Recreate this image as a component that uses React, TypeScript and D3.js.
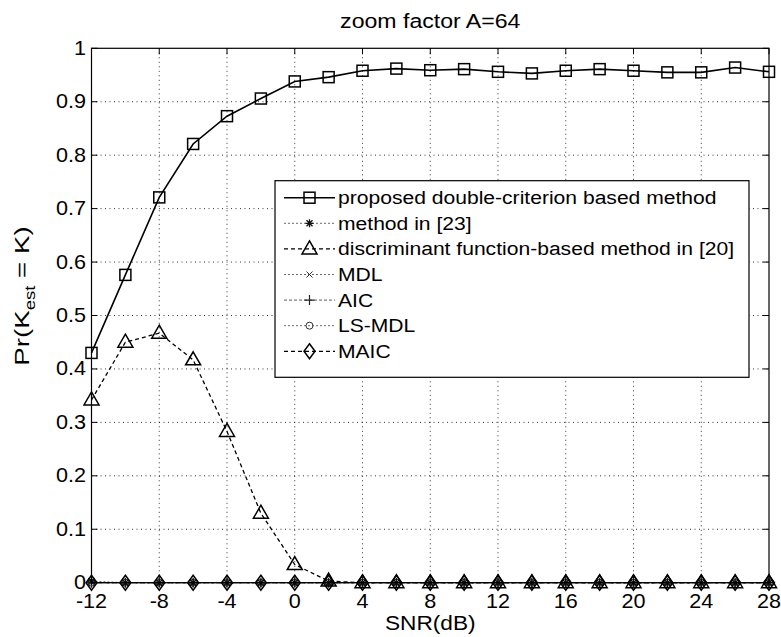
import React from "react";
import * as d3 from "d3";

const snr = [-12, -10, -8, -6, -4, -2, 0, 2, 4, 6, 8, 10, 12, 14, 16, 18, 20, 22, 24, 26, 28];
const proposed = [0.43, 0.576, 0.721, 0.821, 0.873, 0.906, 0.938, 0.946, 0.958, 0.962, 0.959, 0.961, 0.956, 0.953, 0.958, 0.961, 0.958, 0.955, 0.955, 0.964, 0.956];
const method23 = [0.003, 0, 0, 0, 0, 0, 0, 0, 0, 0, 0, 0, 0, 0, 0, 0, 0, 0, 0, 0, 0];
const discriminant = [0.342, 0.45, 0.467, 0.417, 0.283, 0.13, 0.034, 0.003, 0, 0, 0, 0, 0, 0, 0, 0, 0, 0, 0, 0, 0];
const mdl = [0, 0, 0, 0, 0, 0, 0, 0, 0, 0, 0, 0, 0, 0, 0, 0, 0, 0, 0, 0, 0];
const aic = [0, 0, 0, 0, 0, 0, 0, 0, 0, 0, 0, 0, 0, 0, 0, 0, 0, 0, 0, 0, 0];
const lsmdl = [0, 0, 0, 0, 0, 0, 0, 0, 0, 0, 0, 0, 0, 0, 0, 0, 0, 0, 0, 0, 0];
const maic = [0, 0, 0, 0, 0, 0, 0, 0, 0, 0, 0, 0, 0, 0, 0, 0, 0, 0, 0, 0, 0];

const xTicks = [-12, -8, -4, 0, 4, 8, 12, 16, 20, 24, 28];
const yTicks = [0, 0.1, 0.2, 0.3, 0.4, 0.5, 0.6, 0.7, 0.8, 0.9, 1];
const yTickLabels = ["0", "0.1", "0.2", "0.3", "0.4", "0.5", "0.6", "0.7", "0.8", "0.9", "1"];

const title = "zoom factor A=64";
const xLabel = "SNR(dB)";

type Marker = "square" | "star" | "triangle" | "x" | "plus" | "circle" | "diamond";
interface Series {
  name: string;
  values: number[];
  marker: Marker;
  color: string;
  width: number;
  dash: string;
}

const series: Series[] = [
  { name: "proposed double-criterion based method", values: proposed, marker: "square", color: "#000", width: 1.6, dash: "" },
  { name: "method in [23]", values: method23, marker: "star", color: "#444", width: 0.8, dash: "2,2" },
  { name: "discriminant function-based method in [20]", values: discriminant, marker: "triangle", color: "#000", width: 1.3, dash: "4,3" },
  { name: "MDL", values: mdl, marker: "x", color: "#444", width: 0.8, dash: "2,2" },
  { name: "AIC", values: aic, marker: "plus", color: "#333", width: 0.8, dash: "3,2" },
  { name: "LS-MDL", values: lsmdl, marker: "circle", color: "#444", width: 0.8, dash: "2,2" },
  { name: "MAIC", values: maic, marker: "diamond", color: "#000", width: 1.3, dash: "4,3" },
];

const FONT = "'Liberation Sans', Arial, Helvetica, sans-serif";

function MarkerShape({ type, x, y }: { type: Marker; x: number; y: number }) {
  const sw = 1.5;
  switch (type) {
    case "square":
      return <rect x={x - 5.5} y={y - 5.5} width={11} height={11} fill="none" stroke="#000" strokeWidth={sw} />;
    case "triangle":
      return <path d={`M${x},${y - 8} L${x + 7.5},${y + 5} L${x - 7.5},${y + 5} Z`} fill="none" stroke="#000" strokeWidth={sw} />;
    case "diamond":
      return <path d={`M${x},${y - 7.5} L${x + 5.5},${y} L${x},${y + 7.5} L${x - 5.5},${y} Z`} fill="none" stroke="#000" strokeWidth={sw} />;
    case "circle":
      return <circle cx={x} cy={y} r={3.5} fill="none" stroke="#333" strokeWidth={1} />;
    case "x":
      return <path d={`M${x - 3},${y - 3} L${x + 3},${y + 3} M${x - 3},${y + 3} L${x + 3},${y - 3}`} stroke="#333" strokeWidth={1} />;
    case "plus":
      return <path d={`M${x - 5},${y} L${x + 5},${y} M${x},${y - 5} L${x},${y + 5}`} stroke="#222" strokeWidth={1.2} />;
    case "star":
      return (
        <path
          d={`M${x - 4},${y} L${x + 4},${y} M${x},${y - 4} L${x},${y + 4} M${x - 3},${y - 3} L${x + 3},${y + 3} M${x - 3},${y + 3} L${x + 3},${y - 3}`}
          stroke="#111"
          strokeWidth={1.3}
        />
      );
  }
  return null;
}

export default function App() {
  const W = 781;
  const H = 637;
  const left = 91.5;
  const right = 769;
  const top = 48.3;
  const bottom = 582.7;

  const x = d3.scaleLinear().domain([-12, 28]).range([left, right]);
  const y = d3.scaleLinear().domain([0, 1]).range([bottom, top]);

  const line = d3
    .line<number>()
    .x((_, i) => x(snr[i]))
    .y((d) => y(d));

  const tickLen = 6;

  // legend geometry
  const lgX = 275;
  const lgY = 180.7;
  const lgW = 474;
  const lgH = 196.6;
  const rowH = 25.6;
  const row0 = 197.7;

  const drawOrder = [3, 4, 5, 1, 6, 2, 0];

  return (
    <svg width={W} height={H} style={{ position: "absolute", left: 0, top: 0, background: "#fff" }} fontFamily={FONT}>
      <rect x={0} y={0} width={W} height={H} fill="#fff" />
      {/* grid */}
      {xTicks.slice(1, -1).map((t) => (
        <line key={"gx" + t} x1={x(t)} x2={x(t)} y1={top} y2={bottom} stroke="#000" strokeWidth={0.8} strokeDasharray="1,3.5" />
      ))}
      {yTicks.slice(1, -1).map((t) => (
        <line key={"gy" + t} x1={left} x2={right} y1={y(t)} y2={y(t)} stroke="#000" strokeWidth={0.8} strokeDasharray="1,3.5" />
      ))}
      {/* ticks inward on all sides */}
      {xTicks.map((t) => (
        <g key={"tx" + t}>
          <line x1={x(t)} x2={x(t)} y1={bottom} y2={bottom - tickLen} stroke="#000" strokeWidth={1} />
          <line x1={x(t)} x2={x(t)} y1={top} y2={top + tickLen} stroke="#000" strokeWidth={1} />
        </g>
      ))}
      {yTicks.map((t) => (
        <g key={"ty" + t}>
          <line x1={left} x2={left + tickLen} y1={y(t)} y2={y(t)} stroke="#000" strokeWidth={1} />
          <line x1={right} x2={right - tickLen} y1={y(t)} y2={y(t)} stroke="#000" strokeWidth={1} />
        </g>
      ))}

      {/* series */}
      {drawOrder.map((si) => {
        const s = series[si];
        return (
          <g key={"s" + si}>
            <path d={line(s.values) || ""} fill="none" stroke={s.color} strokeWidth={s.width} strokeDasharray={s.dash || undefined} />
            {s.values.map((v, i) => (
              <MarkerShape key={i} type={s.marker} x={x(snr[i])} y={y(v)} />
            ))}
          </g>
        );
      })}

      {/* axes box */}
      <rect x={left} y={top} width={right - left} height={bottom - top} fill="none" stroke="#000" strokeWidth={1.2} />

      {/* tick labels */}
      {xTicks.map((t) => (
        <text key={"lx" + t} transform={`translate(${x(t)},${607.5}) scale(1.08,1)`} textAnchor="middle" fontSize={20} fill="#000">
          {String(t)}
        </text>
      ))}
      {yTicks.map((t, i) => (
        <text key={"ly" + t} transform={`translate(${86},${y(t) + 6.5}) scale(1.08,1)`} textAnchor="end" fontSize={20} fill="#000">
          {yTickLabels[i]}
        </text>
      ))}

      {/* title */}
      <text transform={`translate(${(left + right) / 2},${28.3}) scale(1.1,1)`} textAnchor="middle" fontSize={21} fill="#000">
        {title}
      </text>
      {/* x label */}
      <text transform={`translate(${(left + right) / 2},${630}) scale(1.08,1)`} textAnchor="middle" fontSize={21} fill="#000">
        {xLabel}
      </text>
      {/* y label */}
      <text transform={`translate(${28.5},${296}) rotate(-90) scale(1.32,1)`} textAnchor="middle" fontSize={21} fill="#000">
        <tspan>Pr(K</tspan>
        <tspan dy={6} fontSize={14}>est</tspan>
        <tspan dy={-6}> = K)</tspan>
      </text>

      {/* legend */}
      <rect x={lgX} y={lgY} width={lgW} height={lgH} fill="#fff" stroke="#000" strokeWidth={1.2} />
      {series.map((s, i) => {
        const cy = row0 + i * rowH;
        return (
          <g key={"lg" + i}>
            <line x1={284} x2={335} y1={cy} y2={cy} stroke={s.color} strokeWidth={s.width} strokeDasharray={s.dash || undefined} />
            <MarkerShape type={s.marker} x={309.5} y={cy} />
            <text transform={`translate(${338},${cy + 6.5}) scale(1.11,1)`} fontSize={19} fill="#000">
              {s.name}
            </text>
          </g>
        );
      })}
    </svg>
  );
}
